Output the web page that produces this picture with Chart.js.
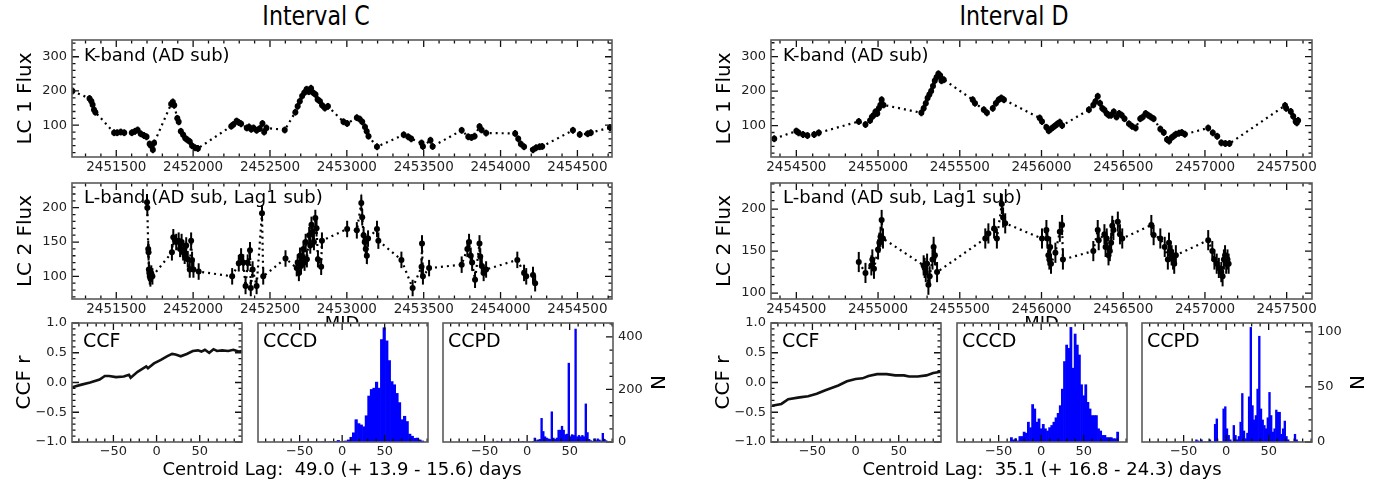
<!DOCTYPE html>
<html>
<head>
<meta charset="utf-8">
<script src="https://cdn.jsdelivr.net/npm/chart.js@4.4.1/dist/chart.umd.min.js"></script>
<style>
  body { margin: 0; background: #fff; width: 1390px; height: 488px; position: relative; overflow: hidden; font-family: "DejaVu Sans", sans-serif; }
  canvas { position: absolute; }
  .t { position: absolute; text-align: center; white-space: pre; color: #000; }
  .head { font-size: 27px; line-height: 30px; transform: scaleX(0.82); }
  .lag { font-size: 18px; line-height: 22px; }
</style>
</head>
<body>
<canvas id="lc1C"></canvas>
<canvas id="lc2C"></canvas>
<canvas id="lc1D"></canvas>
<canvas id="lc2D"></canvas>
<canvas id="ccfC"></canvas>
<canvas id="cccdC"></canvas>
<canvas id="ccpdC"></canvas>
<canvas id="ccfD"></canvas>
<canvas id="cccdD"></canvas>
<canvas id="ccpdD"></canvas>
<div class="t head" style="left:216px;top:1px;width:200px">Interval C</div>
<div class="t head" style="left:914px;top:1px;width:200px">Interval D</div>
<div class="t lag" style="left:142px;top:458px;width:400px">Centroid Lag:  49.0 (+ 13.9 - 15.6) days</div>
<div class="t lag" style="left:842px;top:458px;width:400px">Centroid Lag:  35.1 (+ 16.8 - 24.3) days</div>
<script>
// tick labels
const xTicksC = [2451500, 2452000, 2452500, 2453000, 2453500, 2454000, 2454500];
const xTicksD = [2454500, 2455000, 2455500, 2456000, 2456500, 2457000, 2457500];
const lc1Ticks = [100, 200, 300];
const lc2Ticks = [100, 150, 200];
const ccfTicks = [-1.0, -0.5, 0.0, 0.5, 1.0];
const lagTicks = [-50, 0, 50];
const nTicksC = [0, 200, 400];
const nTicksD = [0, 50, 100];

// Interval C light curves
const lc1C_t = [2451215, 2451326, 2451338, 2451346, 2451355, 2451364, 2451486, 2451506, 2451529, 2451552, 2451601, 2451622, 2451639, 2451659, 2451680, 2451697, 2451717, 2451726, 2451738, 2451746, 2451857, 2451868, 2451877, 2451897, 2451906, 2451920, 2451935, 2451949, 2451964, 2451978, 2451993, 2452013, 2452031, 2452248, 2452262, 2452283, 2452297, 2452312, 2452349, 2452364, 2452378, 2452393, 2452413, 2452433, 2452451, 2452462, 2452477, 2452596, 2452665, 2452680, 2452694, 2452709, 2452723, 2452738, 2452752, 2452767, 2452781, 2452796, 2452810, 2452825, 2452839, 2452857, 2452877, 2452978, 2453002, 2453065, 2453083, 2453100, 2453118, 2453129, 2453141, 2453196, 2453370, 2453399, 2453419, 2453486, 2453495, 2453544, 2453558, 2453747, 2453790, 2453811, 2453831, 2453863, 2453877, 2453906, 2454095, 2454115, 2454132, 2454153, 2454211, 2454231, 2454254, 2454271, 2454471, 2454515, 2454567, 2454587, 2454712];
const lc1C_f = [200, 178, 170, 160, 145, 138, 78, 78, 80, 78, 78, 82, 86, 75, 70, 66, 45, 40, 28, 48, 162, 168, 158, 120, 110, 82, 72, 62, 57, 52, 40, 34, 32, 97, 102, 112, 108, 104, 92, 95, 88, 92, 85, 90, 105, 80, 92, 86, 138, 155, 170, 185, 195, 205, 198, 208, 195, 190, 175, 170, 158, 150, 155, 110, 105, 122, 118, 110, 95, 82, 68, 37, 72, 66, 60, 48, 38, 56, 38, 85, 66, 64, 68, 96, 86, 77, 76, 60, 45, 37, 28, 34, 37, 38, 85, 73, 75, 78, 93];
const lc2C_t = [2451700, 2451702, 2451708, 2451710, 2451712, 2451715, 2451718, 2451722, 2451728, 2451735, 2451862, 2451871, 2451890, 2451906, 2451915, 2451925, 2451935, 2451945, 2451955, 2451965, 2451978, 2451987, 2451993, 2452002, 2452036, 2452254, 2452297, 2452312, 2452326, 2452341, 2452355, 2452370, 2452375, 2452387, 2452413, 2452448, 2452456, 2452601, 2452674, 2452680, 2452688, 2452695, 2452702, 2452710, 2452718, 2452725, 2452732, 2452740, 2452755, 2452762, 2452770, 2452778, 2452786, 2452795, 2452803, 2452812, 2452833, 2452838, 2453002, 2453065, 2453094, 2453100, 2453109, 2453116, 2453123, 2453130, 2453138, 2453196, 2453205, 2453355, 2453428, 2453486, 2453489, 2453495, 2453535, 2453747, 2453784, 2453795, 2453806, 2453815, 2453834, 2453863, 2453868, 2453878, 2453890, 2453906, 2454109, 2454153, 2454167, 2454211, 2454225];
const lc2C_f = [208, 200, 140, 135, 110, 105, 100, 97, 104, 100, 135, 157, 150, 152, 140, 150, 135, 130, 145, 125, 110, 152, 124, 110, 107, 100, 119, 129, 120, 86, 120, 138, 83, 110, 86, 192, 100, 126, 112, 120, 105, 130, 115, 125, 140, 120, 150, 125, 160, 145, 175, 165, 150, 185, 170, 125, 114, 152, 169, 167, 207, 186, 160, 150, 140, 130, 155, 169, 152, 124, 83, 114, 148, 100, 112, 117, 140, 150, 130, 120, 95, 148, 129, 115, 105, 110, 124, 105, 100, 102, 90];

// Interval D light curves
const lc1D_t = [2454365, 2454500, 2454514, 2454541, 2454568, 2454609, 2454637, 2454882, 2454923, 2454951, 2454962, 2454973, 2454984, 2454995, 2455005, 2455014, 2455022, 2455033, 2455265, 2455279, 2455292, 2455303, 2455314, 2455325, 2455336, 2455347, 2455358, 2455369, 2455380, 2455388, 2455402, 2455579, 2455593, 2455647, 2455666, 2455702, 2455721, 2455738, 2455754, 2455770, 2455989, 2456003, 2456030, 2456044, 2456057, 2456071, 2456085, 2456098, 2456112, 2456126, 2456290, 2456317, 2456330, 2456344, 2456358, 2456372, 2456385, 2456399, 2456412, 2456426, 2456442, 2456459, 2456475, 2456491, 2456508, 2456535, 2456554, 2456576, 2456604, 2456620, 2456637, 2456653, 2456669, 2456686, 2456727, 2456748, 2456768, 2456781, 2456795, 2456809, 2456822, 2456841, 2456858, 2456877, 2457020, 2457048, 2457075, 2457100, 2457125, 2457150, 2457490, 2457497, 2457525, 2457540, 2457555, 2457562, 2457570];
const lc1D_f = [62, 84, 79, 74, 71, 74, 79, 112, 103, 115, 125, 130, 140, 135, 150, 160, 175, 160, 137, 150, 165, 180, 190, 200, 215, 230, 240, 250, 245, 230, 233, 175, 165, 146, 137, 150, 165, 175, 180, 175, 122, 112, 95, 85, 90, 95, 100, 105, 110, 100, 146, 160, 170, 185, 165, 150, 145, 135, 130, 130, 140, 125, 135, 130, 120, 105, 98, 93, 120, 125, 135, 130, 125, 120, 90, 80, 60, 55, 65, 70, 75, 78, 80, 75, 93, 79, 69, 50, 48, 48, 158, 150, 141, 127, 112, 108, 115];
const lc2D_t = [2454882, 2454923, 2454959, 2454965, 2454975, 2455000, 2455008, 2455015, 2455022, 2455030, 2455279, 2455285, 2455292, 2455300, 2455308, 2455316, 2455333, 2455340, 2455348, 2455361, 2455656, 2455675, 2455710, 2455727, 2455757, 2455765, 2455778, 2456003, 2456030, 2456036, 2456042, 2456048, 2456053, 2456058, 2456085, 2456112, 2456126, 2456131, 2456317, 2456344, 2456350, 2456385, 2456392, 2456399, 2456410, 2456418, 2456426, 2456433, 2456440, 2456467, 2456480, 2456494, 2456672, 2456686, 2456727, 2456754, 2456773, 2456780, 2456788, 2456796, 2456805, 2456812, 2456822, 2457020, 2457045, 2457058, 2457072, 2457085, 2457100, 2457108, 2457116, 2457123, 2457130, 2457138, 2457145];
const lc2D_f = [137, 124, 133, 140, 129, 152, 160, 167, 187, 165, 133, 130, 125, 135, 110, 120, 140, 155, 145, 125, 165, 171, 177, 165, 206, 190, 183, 165, 175, 165, 145, 140, 155, 135, 148, 173, 181, 140, 150, 175, 163, 170, 155, 165, 145, 150, 160, 180, 175, 185, 170, 165, 181, 169, 165, 155, 140, 160, 150, 145, 140, 135, 145, 163, 150, 140, 135, 130, 125, 120, 140, 145, 135, 140, 135];

// error bar half-lengths
const lc1Err = 10;
const lc2Err = 12;

// cross-correlation functions
const ccfC_lag = [-98, -88, -77, -66, -60, -55, -47, -38, -32, -30, -22, -12, -10, -3, 5, 12, 18, 22, 28, 35, 42, 48, 52, 56, 61, 66, 70, 76, 83, 89, 95, 99];
const ccfC_r = [-0.08, -0.04, 0.0, 0.05, 0.11, 0.11, 0.09, 0.10, 0.13, 0.08, 0.18, 0.27, 0.24, 0.32, 0.38, 0.44, 0.48, 0.47, 0.44, 0.48, 0.53, 0.54, 0.52, 0.55, 0.50, 0.56, 0.53, 0.54, 0.53, 0.55, 0.52, 0.53];
const ccfD_lag = [-97, -86, -78, -65, -55, -45, -35, -20, -10, 0, 8, 15, 25, 36, 46, 56, 62, 72, 82, 90, 99];
const ccfD_r = [-0.39, -0.36, -0.28, -0.25, -0.23, -0.19, -0.13, -0.05, 0.02, 0.06, 0.07, 0.11, 0.14, 0.14, 0.12, 0.12, 0.10, 0.10, 0.12, 0.16, 0.18];

// centroid (CCCD) and peak (CCPD) distributions: bin centres and counts
const cccdC_lag = [-46.5, -43.5, -40.5, -37.5, -34.5, -31.5, -28.5, -25.5, -22.5, -19.5, -16.5, -13.5, -10.5, -7.5, -4.5, -1.5, 1.5, 4.5, 7.5, 10.5, 13.5, 16.5, 19.5, 22.5, 25.5, 28.5, 31.5, 34.5, 37.5, 40.5, 43.5, 46.5, 49.5, 52.5, 55.5, 58.5, 61.5, 64.5, 67.5, 70.5, 73.5, 76.5, 79.5, 82.5, 85.5, 88.5, 91.5, 94.5];
const cccdC_n = [2, 1, 0, 0, 0, 0, 0, 0, 1, 0, 0, 1, 0, 2, 6, 1, 3, 4, 8, 18, 35, 85, 70, 65, 58, 100, 175, 200, 205, 228, 205, 390, 435, 385, 310, 230, 218, 185, 150, 85, 98, 78, 30, 22, 14, 15, 8, 4];
const ccpdC_lag = [-35, -33, -31, -29, -27, -25, -23, -21, -19, -17, -15, -13, -11, -9, -7, -5, -3, -1, 1, 3, 5, 7, 9, 11, 13, 15, 17, 19, 21, 23, 25, 27, 29, 31, 33, 35, 37, 39, 41, 43, 45, 47, 49, 51, 53, 55, 57, 59, 61, 63, 65, 67, 69, 71, 73, 75, 77, 79, 81, 83, 85, 87, 89, 91, 93];
const ccpdC_n = [3, 0, 0, 0, 0, 0, 0, 0, 0, 0, 2, 0, 0, 0, 0, 2, 0, 0, 0, 0, 0, 2, 15, 5, 8, 10, 90, 40, 20, 15, 12, 10, 115, 15, 10, 15, 45, 45, 60, 45, 28, 30, 300, 20, 28, 25, 430, 20, 25, 20, 25, 20, 145, 36, 10, 5, 3, 12, 5, 12, 8, 4, 33, 10, 5];
const cccdD_lag = [-35, -32.5, -30, -27.5, -25, -22.5, -20, -17.5, -15, -12.5, -10, -7.5, -5, -2.5, 0, 2.5, 5, 7.5, 10, 12.5, 15, 17.5, 20, 22.5, 25, 27.5, 30, 32.5, 35, 37.5, 40, 42.5, 45, 47.5, 50, 52.5, 55, 57.5, 60, 62.5, 65, 67.5, 70, 72.5, 75, 77.5, 80, 82.5, 85, 87.5, 90];
const cccdD_n = [4, 2, 3, 1, 5, 5, 9, 8, 18, 13, 34, 30, 18, 21, 12, 16, 12, 10, 13, 15, 18, 22, 26, 33, 48, 73, 88, 85, 104, 67, 98, 88, 79, 52, 42, 52, 36, 30, 24, 24, 24, 12, 10, 6, 6, 4, 4, 4, 3, 3, 9];
const ccpdD_lag = [-35, -33, -31, -29, -27, -25, -23, -21, -19, -17, -15, -13, -11, -9, -7, -5, -3, -1, 1, 3, 5, 7, 9, 11, 13, 15, 17, 19, 21, 23, 25, 27, 29, 31, 33, 35, 37, 39, 41, 43, 45, 47, 49, 51, 53, 55, 57, 59, 61, 63, 65, 67, 69, 71, 73, 75, 77, 79, 81, 83, 85];
const ccpdD_n = [2, 1, 0, 2, 0, 0, 0, 0, 2, 0, 0, 16, 21, 0, 0, 0, 30, 32, 12, 6, 2, 0, 15, 6, 2, 5, 18, 44, 10, 3, 8, 41, 104, 33, 20, 24, 48, 96, 30, 20, 15, 12, 22, 45, 24, 9, 12, 29, 27, 27, 7, 12, 19, 5, 2, 0, 0, 0, 7, 2, 0];

Chart.defaults.font.family = '"DejaVu Sans", sans-serif';

const plain = v => String(v);
const minus = v => String(v).replace('-', '\u2212');
const oneDec = v => Number(v).toFixed(1).replace('-', '\u2212');

// matplotlib-like frame: inward ticks on chosen sides, box, label in corner, error bars
function tickMarks(scale, major, minor) {
    const out = [];
    if (minor) {
        const k0 = Math.ceil(scale.min / minor - 1e-9);
        const k1 = Math.floor(scale.max / minor + 1e-9);
        for (let k = k0; k <= k1; k++) out.push([scale.getPixelForValue(k * minor), 3.5]);
    }
    (major || []).forEach(v => {
        if (v >= scale.min && v <= scale.max) out.push([scale.getPixelForValue(v), 7]);
    });
    return out;
}

const mplAxes = {
    id: 'mplAxes',
    beforeDraw(chart) {
        const {ctx, chartArea: a} = chart;
        ctx.save();
        ctx.fillStyle = '#ffffff';
        ctx.fillRect(a.left, a.top, a.right - a.left, a.bottom - a.top);
        ctx.restore();
    },
    beforeDatasetsDraw(chart, args, o) {
        if (!o.err) return;
        const {ctx, chartArea: a, scales: {x, y}} = chart;
        ctx.save();
        ctx.beginPath();
        ctx.rect(a.left, a.top, a.right - a.left, a.bottom - a.top);
        ctx.clip();
        ctx.strokeStyle = '#000';
        ctx.lineWidth = 2;
        chart.data.datasets[0].data.forEach(p => {
            const px = x.getPixelForValue(p.x);
            ctx.beginPath();
            ctx.moveTo(px, y.getPixelForValue(p.y - o.err));
            ctx.lineTo(px, y.getPixelForValue(p.y + o.err));
            ctx.stroke();
        });
        ctx.restore();
    },
    afterDatasetsDraw(chart, args, o) {
        const {ctx, chartArea: a, scales: {x, y}} = chart;
        ctx.save();
        ctx.strokeStyle = '#111';
        ctx.lineWidth = 1.3;
        ctx.beginPath();
        tickMarks(x, o.xMajor, o.xMinor).forEach(([p, len]) => {
            ctx.moveTo(p, a.bottom); ctx.lineTo(p, a.bottom - len);
            ctx.moveTo(p, a.top); ctx.lineTo(p, a.top + len);
        });
        tickMarks(y, o.yMajor, o.yMinor).forEach(([p, len]) => {
            if (o.yLeft) { ctx.moveTo(a.left, p); ctx.lineTo(a.left + len, p); }
            if (o.yRight) { ctx.moveTo(a.right, p); ctx.lineTo(a.right - len, p); }
        });
        ctx.stroke();
        ctx.strokeStyle = '#5a5a5a';
        ctx.lineWidth = 1.6;
        ctx.strokeRect(a.left, a.top, a.right - a.left, a.bottom - a.top);
        if (o.label) {
            ctx.font = o.labelSize + 'px "DejaVu Sans", sans-serif';
            ctx.fillStyle = '#000';
            ctx.textBaseline = 'alphabetic';
            ctx.fillText(o.label, a.left + o.labelDx, a.top + o.labelDy);
        }
        ctx.restore();
    }
};

function lcSet(t, f) {
    return {
        data: t.map((v, i) => ({x: v, y: f[i]})),
        showLine: true,
        borderColor: '#000',
        borderWidth: 2.2,
        borderDash: [2, 4],
        pointRadius: 3,
        pointBorderWidth: 0,
        pointBackgroundColor: '#000'
    };
}

function ccfSet(lag, r) {
    return {
        data: lag.map((v, i) => ({x: v, y: r[i]})),
        showLine: true,
        borderColor: '#111',
        borderWidth: 2.6,
        pointRadius: 0
    };
}

function histSet(lag, n) {
    return {
        data: lag.map((v, i) => ({x: v, y: n[i]})),
        backgroundColor: '#0000ff',
        borderWidth: 0,
        barPercentage: 1,
        categoryPercentage: 1
    };
}

function makePanel(id, frame, pad, cfg) {
    const c = document.getElementById(id);
    c.width = frame.r - frame.l + pad.l + pad.r;
    c.height = frame.b - frame.t + pad.t + pad.b;
    c.style.left = (frame.l - pad.l) + 'px';
    c.style.top = (frame.t - pad.t) + 'px';
    const fit = (size, prop) => s => {
        s[prop] = size;
        s.paddingLeft = 0; s.paddingRight = 0; s.paddingTop = 0; s.paddingBottom = 0;
    };
    const yRight = !!cfg.yRight;
    const noGrid = {display: false, drawTicks: false, tickLength: 0};
    return new Chart(c, {
        type: cfg.type,
        data: {datasets: cfg.datasets},
        options: {
            responsive: false,
            animation: false,
            events: [],
            layout: {padding: {left: yRight ? pad.l : 0, right: yRight ? 0 : pad.r, top: pad.t, bottom: 0}},
            plugins: {legend: {display: false}, tooltip: {enabled: false}, mplAxes: cfg.axes},
            scales: {
                x: {
                    type: 'linear', position: 'bottom', offset: false,
                    min: cfg.xMin, max: cfg.xMax,
                    afterFit: fit(pad.b, 'height'),
                    afterBuildTicks: s => { s.ticks = cfg.xTicks.map(v => ({value: v})); },
                    grid: noGrid, border: {display: false},
                    ticks: {font: {size: cfg.xFont || 13}, color: '#222', padding: 2, maxRotation: 0, autoSkip: false, callback: cfg.xFmt},
                    title: cfg.xTitle ? {display: true, text: cfg.xTitle, font: {size: 18}, color: '#000', padding: {top: 0, bottom: 0}} : {display: false}
                },
                y: {
                    type: 'linear', position: yRight ? 'right' : 'left',
                    min: cfg.yMin, max: cfg.yMax,
                    afterFit: fit(yRight ? pad.r : pad.l, 'width'),
                    afterBuildTicks: s => { s.ticks = cfg.yTicks.map(v => ({value: v})); },
                    grid: noGrid, border: {display: false},
                    ticks: {display: cfg.yLabels !== false, font: {size: 13}, color: '#222', padding: 5, callback: cfg.yFmt},
                    title: cfg.yTitle ? {display: true, text: cfg.yTitle, font: {size: 20}, color: '#000', padding: {top: cfg.yTitlePad, bottom: 0}} : {display: false}
                }
            }
        },
        plugins: [mplAxes]
    });
}

const lcPad1 = {l: 72, t: 6, r: 8, b: 24};
const lcPad2 = {l: 72, t: 6, r: 8, b: 36};

// ---- Interval C ----
makePanel('lc1C', {l: 72, t: 40, r: 612, b: 157}, lcPad1, {
    type: 'scatter', datasets: [lcSet(lc1C_t, lc1C_f)],
    xMin: 2451212, xMax: 2454725, xTicks: xTicksC, xFmt: plain, xFont: 13.5,
    yMin: 7, yMax: 349, yTicks: lc1Ticks, yFmt: plain, yTitle: 'LC 1 Flux', yTitlePad: 14,
    axes: {xMajor: xTicksC, xMinor: 100, yMajor: lc1Ticks, yMinor: 20, yLeft: true, yRight: true,
           label: 'K-band (AD sub)', labelSize: 18, labelDx: 12, labelDy: 21, err: lc1Err}
});
makePanel('lc2C', {l: 72, t: 183, r: 612, b: 299}, lcPad2, {
    type: 'scatter', datasets: [lcSet(lc2C_t, lc2C_f)],
    xMin: 2451212, xMax: 2454725, xTicks: xTicksC, xFmt: plain, xFont: 13.5, xTitle: 'MJD',
    yMin: 67, yMax: 236, yTicks: lc2Ticks, yFmt: plain, yTitle: 'LC 2 Flux', yTitlePad: 14,
    axes: {xMajor: xTicksC, xMinor: 100, yMajor: lc2Ticks, yMinor: 10, yLeft: true, yRight: true,
           label: 'L-band (AD sub, Lag1 sub)', labelSize: 18, labelDx: 12, labelDy: 20, err: lc2Err}
});

// ---- Interval D ----
makePanel('lc1D', {l: 771, t: 40, r: 1312, b: 157}, lcPad1, {
    type: 'scatter', datasets: [lcSet(lc1D_t, lc1D_f)],
    xMin: 2454345, xMax: 2457655, xTicks: xTicksD, xFmt: plain, xFont: 13.5,
    yMin: 9, yMax: 348, yTicks: lc1Ticks, yFmt: plain, yTitle: 'LC 1 Flux', yTitlePad: 14,
    axes: {xMajor: xTicksD, xMinor: 100, yMajor: lc1Ticks, yMinor: 20, yLeft: true, yRight: true,
           label: 'K-band (AD sub)', labelSize: 18, labelDx: 12, labelDy: 21, err: lc1Err}
});
makePanel('lc2D', {l: 771, t: 183, r: 1312, b: 299}, lcPad2, {
    type: 'scatter', datasets: [lcSet(lc2D_t, lc2D_f)],
    xMin: 2454345, xMax: 2457655, xTicks: xTicksD, xFmt: plain, xFont: 13.5, xTitle: 'MJD',
    yMin: 93, yMax: 231, yTicks: lc2Ticks, yFmt: plain, yTitle: 'LC 2 Flux', yTitlePad: 14,
    axes: {xMajor: xTicksD, xMinor: 100, yMajor: lc2Ticks, yMinor: 10, yLeft: true, yRight: true,
           label: 'L-band (AD sub, Lag1 sub)', labelSize: 18, labelDx: 12, labelDy: 20, err: lc2Err}
});

// ---- lag panels ----
function lagPanels(sfx, left, ccf, cccd, ccpd, nMax, nTicks, nMinor) {
    const t = 323, b = 442, w = 170, gap = 15.5;
    makePanel('ccf' + sfx, {l: left, t: t, r: left + w, b: b}, {l: 72, t: 6, r: 4, b: 24}, {
        type: 'scatter', datasets: [ccfSet(ccf[0], ccf[1])],
        xMin: -98, xMax: 99, xTicks: lagTicks, xFmt: minus,
        yMin: -1, yMax: 1, yTicks: ccfTicks, yFmt: oneDec, yTitle: 'CCF r', yTitlePad: 13,
        axes: {xMajor: lagTicks, xMinor: 10, yMajor: ccfTicks, yMinor: 0.1, yLeft: true, yRight: true,
               label: 'CCF', labelSize: 19, labelDx: 11, labelDy: 24}
    });
    const l2 = left + w + gap;
    makePanel('cccd' + sfx, {l: l2, t: t, r: l2 + w, b: b}, {l: 4, t: 6, r: 4, b: 24}, {
        type: 'bar', datasets: [histSet(cccd[0], cccd[1])],
        xMin: -99, xMax: 101, xTicks: lagTicks, xFmt: minus,
        yMin: 0, yMax: nMax, yTicks: nTicks, yLabels: false,
        axes: {xMajor: lagTicks, xMinor: 10, label: 'CCCD', labelSize: 19, labelDx: 5, labelDy: 24}
    });
    const l3 = l2 + w + gap;
    makePanel('ccpd' + sfx, {l: l3, t: t, r: l3 + w, b: b}, {l: 4, t: 6, r: 60, b: 24}, {
        type: 'bar', datasets: [histSet(ccpd[0], ccpd[1])], yRight: true,
        xMin: -99, xMax: 101, xTicks: lagTicks, xFmt: minus,
        yMin: 0, yMax: nMax, yTicks: nTicks, yFmt: plain, yTitle: 'N', yTitlePad: 5,
        axes: {xMajor: lagTicks, xMinor: 10, yMajor: nTicks, yMinor: nMinor, yRight: true,
               label: 'CCPD', labelSize: 19, labelDx: 5, labelDy: 24}
    });
}

lagPanels('C', 72, [ccfC_lag, ccfC_r], [cccdC_lag, cccdC_n], [ccpdC_lag, ccpdC_n], 453, nTicksC, 50);
lagPanels('D', 771, [ccfD_lag, ccfD_r], [cccdD_lag, cccdD_n], [ccpdD_lag, ccpdD_n], 108, nTicksD, 10);
</script>
</body>
</html>
